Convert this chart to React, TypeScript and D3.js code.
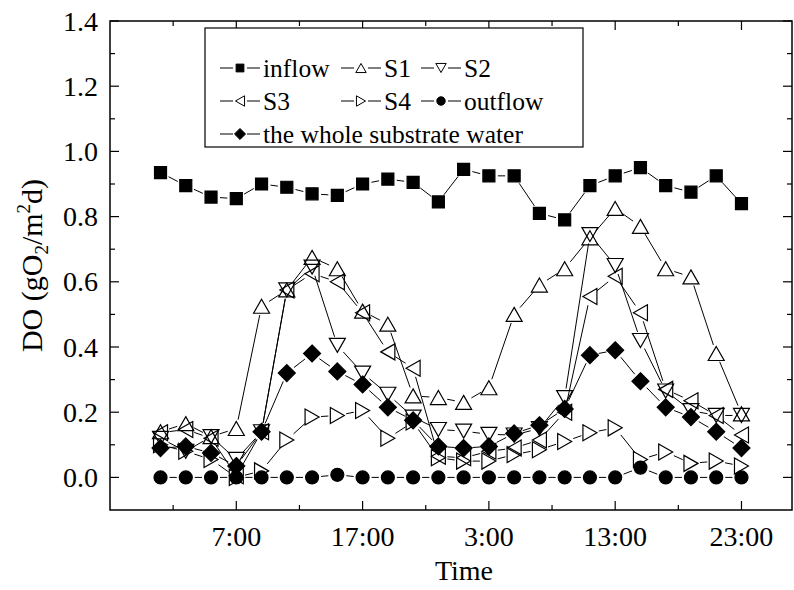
import React, { useEffect, useRef } from "react";
import * as d3 from "d3";

const WIDTH = 794;
const HEIGHT = 590;
const FONT = "'Liberation Serif', 'Times New Roman', serif";

// sampling time in hours (1:00 day 1 ... 23:00 day 2)
const hours = [1, 3, 5, 7, 9, 11, 13, 15, 17, 19, 21, 23, 25, 27, 29, 31, 33, 35, 37, 39, 41, 43, 45, 47];

const inflow = [0.935, 0.895, 0.86, 0.855, 0.9, 0.89, 0.87, 0.865, 0.9, 0.915, 0.905, 0.845, 0.945, 0.925, 0.925, 0.81, 0.79, 0.895, 0.925, 0.95, 0.895, 0.875, 0.925, 0.84];
const s1 = [0.14, 0.165, 0.125, 0.15, 0.525, 0.575, 0.675, 0.64, 0.51, 0.47, 0.25, 0.245, 0.23, 0.275, 0.5, 0.59, 0.64, 0.735, 0.825, 0.77, 0.64, 0.615, 0.38, 0.195];
const s2 = [0.12, 0.08, 0.125, 0.055, 0.14, 0.575, 0.645, 0.405, 0.32, 0.255, 0.185, 0.147, 0.142, 0.132, 0.13, 0.15, 0.245, 0.745, 0.65, 0.42, 0.265, 0.205, 0.19, 0.19];
const s3 = [0.137, 0.147, 0.12, 0.005, 0.14, 0.575, 0.625, 0.6, 0.505, 0.385, 0.335, 0.065, 0.06, 0.08, 0.09, 0.115, 0.2, 0.555, 0.617, 0.505, 0.27, 0.235, 0.19, 0.13];
const s4 = [0.1, 0.08, 0.055, 0.0, 0.02, 0.115, 0.185, 0.19, 0.205, 0.12, 0.17, 0.06, 0.05, 0.05, 0.07, 0.085, 0.11, 0.137, 0.152, 0.055, 0.078, 0.043, 0.05, 0.035];
const outflow = [0, 0, 0, 0, 0, 0, 0, 0.008, 0, 0, 0, 0, 0, 0, 0, 0, 0, 0, 0, 0.03, 0, 0, 0, 0];
const whole = [0.09, 0.095, 0.075, 0.035, 0.14, 0.32, 0.38, 0.325, 0.285, 0.215, 0.175, 0.095, 0.09, 0.095, 0.135, 0.16, 0.21, 0.375, 0.39, 0.295, 0.215, 0.185, 0.14, 0.09];

const seriesNames = ["inflow", "S1", "S2", "S3", "S4", "outflow", "the whole substrate water"];
const seriesSymbols = ["square", "up", "down", "left", "right", "circle", "diamond"];
const seriesValues = [inflow, s1, s2, s3, s4, outflow, whole];

const xTicks = [7, 17, 27, 37, 47];
const xTickLabels = ["7:00", "17:00", "3:00", "13:00", "23:00"];
const xMinorTicks = [2, 12, 22, 32, 42];
const yTicks = [0, 0.2, 0.4, 0.6, 0.8, 1.0, 1.2, 1.4];
const yMinorTicks = [0.1, 0.3, 0.5, 0.7, 0.9, 1.1, 1.3];

function symbolPath(type: string, k = 1) {
  const s = 16 * k; // triangle side
  const h = 14 * k; // triangle height
  const a = 8.5 * k; // diamond half diagonal
  switch (type) {
    case "up":
      return `M0,${-h / 2}L${s / 2},${h / 2}L${-s / 2},${h / 2}Z`;
    case "down":
      return `M0,${h / 2}L${s / 2},${-h / 2}L${-s / 2},${-h / 2}Z`;
    case "left":
      return `M${-h / 2},0L${h / 2},${-s / 2}L${h / 2},${s / 2}Z`;
    case "right":
      return `M${h / 2},0L${-h / 2},${-s / 2}L${-h / 2},${s / 2}Z`;
    case "diamond":
      return `M0,${-a}L${a},0L0,${a}L${-a},0Z`;
    case "square": {
      const q = 6 * k;
      return `M${-q},${-q}H${q}V${q}H${-q}Z`;
    }
    default: {
      const r = 6.5 * k;
      return `M${r},0A${r},${r} 0 1,1 ${-r},0A${r},${r} 0 1,1 ${r},0Z`;
    }
  }
}

const filled = (type: string) => type === "square" || type === "circle" || type === "diamond";

function Chart() {
  const ref = useRef<SVGSVGElement>(null);

  useEffect(() => {
    document.body.style.margin = "0";
    if (!ref.current) return;
    const svg = d3.select(ref.current);
    svg.selectAll("*").remove();

    const left = 110, right = 792, top = 21, bottom = 510;
    const x = d3.scaleLinear().domain([-3, 51]).range([left, right]);
    const y = d3.scaleLinear().domain([-0.1, 1.4]).range([bottom, top]);

    const frame = svg.append("g");
    frame
      .append("rect")
      .attr("x", left)
      .attr("y", top)
      .attr("width", right - left)
      .attr("height", bottom - top)
      .attr("fill", "none")
      .attr("stroke", "#000")
      .attr("stroke-width", 1.5);

    const major = 9, minor = 5;
    // x ticks (bottom and top, inward)
    const xt = [...xTicks.map((v) => ({ v, l: major })), ...xMinorTicks.map((v) => ({ v, l: minor }))];
    frame
      .selectAll(".xb")
      .data(xt)
      .enter()
      .append("line")
      .attr("x1", (d) => x(d.v))
      .attr("x2", (d) => x(d.v))
      .attr("y1", bottom)
      .attr("y2", (d) => bottom - d.l)
      .attr("stroke", "#000")
      .attr("stroke-width", 1.2);
    frame
      .selectAll(".xt")
      .data(xt)
      .enter()
      .append("line")
      .attr("x1", (d) => x(d.v))
      .attr("x2", (d) => x(d.v))
      .attr("y1", top)
      .attr("y2", (d) => top + d.l)
      .attr("stroke", "#000")
      .attr("stroke-width", 1.2);

    const yt = [...yTicks.map((v) => ({ v, l: major })), ...yMinorTicks.map((v) => ({ v, l: minor }))];
    frame
      .selectAll(".yl")
      .data(yt)
      .enter()
      .append("line")
      .attr("x1", left)
      .attr("x2", (d) => left + d.l)
      .attr("y1", (d) => y(d.v))
      .attr("y2", (d) => y(d.v))
      .attr("stroke", "#000")
      .attr("stroke-width", 1.2);
    frame
      .selectAll(".yr")
      .data(yt)
      .enter()
      .append("line")
      .attr("x1", right)
      .attr("x2", (d) => right - d.l)
      .attr("y1", (d) => y(d.v))
      .attr("y2", (d) => y(d.v))
      .attr("stroke", "#000")
      .attr("stroke-width", 1.2);

    // tick labels
    svg
      .selectAll(".xlab")
      .data(xTicks)
      .enter()
      .append("text")
      .attr("x", (d) => x(d))
      .attr("y", 546)
      .attr("text-anchor", "middle")
      .attr("font-family", FONT)
      .attr("font-size", 28)
      .text((_, i) => xTickLabels[i]);

    svg
      .selectAll(".ylab")
      .data(yTicks)
      .enter()
      .append("text")
      .attr("x", 98)
      .attr("y", (d) => y(d) + 9.5)
      .attr("text-anchor", "end")
      .attr("font-family", FONT)
      .attr("font-size", 28)
      .text((d) => d3.format(".1f")(d));

    svg
      .append("text")
      .attr("x", 464)
      .attr("y", 580)
      .attr("text-anchor", "middle")
      .attr("font-family", FONT)
      .attr("font-size", 28)
      .text("Time");

    const yTitle = svg
      .append("text")
      .attr("transform", `translate(42 ${(top + bottom) / 2}) rotate(-90)`)
      .attr("text-anchor", "middle")
      .attr("font-family", FONT)
      .attr("font-size", 30);
    yTitle.append("tspan").text("DO (gO");
    yTitle.append("tspan").attr("font-size", 19).attr("dy", 6).text("2");
    yTitle.append("tspan").attr("dy", -6).text("/m");
    yTitle.append("tspan").attr("font-size", 19).attr("dy", -12).text("2");
    yTitle.append("tspan").attr("dy", 12).text("d)");

    // series: lines with gaps around markers, then markers
    const gap = 9;
    const plot = svg.append("g");
    seriesValues.forEach((vals) => {
      const pts = vals.map((v, i) => [x(hours[i]), y(v)]);
      const segs = d3.pairs(pts).filter(([a, b]) => Math.hypot(b[0] - a[0], b[1] - a[1]) > 2 * gap + 1);
      plot
        .append("g")
        .selectAll("line")
        .data(segs)
        .enter()
        .append("line")
        .each(function ([a, b]) {
          const d = Math.hypot(b[0] - a[0], b[1] - a[1]);
          const ux = (b[0] - a[0]) / d, uy = (b[1] - a[1]) / d;
          d3.select(this)
            .attr("x1", a[0] + ux * gap)
            .attr("y1", a[1] + uy * gap)
            .attr("x2", b[0] - ux * gap)
            .attr("y2", b[1] - uy * gap);
        })
        .attr("stroke", "#000")
        .attr("stroke-width", 1);
    });
    seriesValues.forEach((vals, si) => {
      const type = seriesSymbols[si];
      plot
        .append("g")
        .selectAll("path")
        .data(vals)
        .enter()
        .append("path")
        .attr("transform", (v, i) => `translate(${x(hours[i])} ${y(v)})`)
        .attr("d", symbolPath(type))
        .attr("fill", filled(type) ? "#000" : "none")
        .attr("stroke", "#000")
        .attr("stroke-width", 1.2);
    });

    // legend
    const legend = svg.append("g");
    legend
      .append("rect")
      .attr("x", 205)
      .attr("y", 28)
      .attr("width", 378)
      .attr("height", 119)
      .attr("fill", "#fff")
      .attr("stroke", "#000")
      .attr("stroke-width", 1.2);
    const colX = [240, 361, 441];
    const rowY = [68, 101, 134];
    const slots = [
      [0, 0], [0, 1], [0, 2],
      [1, 0], [1, 1], [1, 2],
      [2, 0],
    ];
    const items = legend
      .selectAll(".item")
      .data(seriesNames)
      .enter()
      .append("g")
      .attr("transform", (_, i) => `translate(${colX[slots[i][1]]} ${rowY[slots[i][0]]})`);
    items
      .append("line")
      .attr("x1", -20)
      .attr("x2", -7)
      .attr("stroke", "#000")
      .attr("stroke-width", 1);
    items
      .append("line")
      .attr("x1", 7)
      .attr("x2", 20)
      .attr("stroke", "#000")
      .attr("stroke-width", 1);
    items
      .append("path")
      .attr("d", (_, i) => symbolPath(seriesSymbols[i], 0.65))
      .attr("fill", (_, i) => (filled(seriesSymbols[i]) ? "#000" : "none"))
      .attr("stroke", "#000")
      .attr("stroke-width", 1);
    items
      .append("text")
      .attr("x", 23)
      .attr("y", 8.5)
      .attr("font-family", FONT)
      .attr("font-size", 25.5)
      .text((d) => d);
  }, []);

  return <svg ref={ref} width={WIDTH} height={HEIGHT} style={{ display: "block", background: "#fff" }} />;
}

export default function App() {
  return <Chart />;
}
